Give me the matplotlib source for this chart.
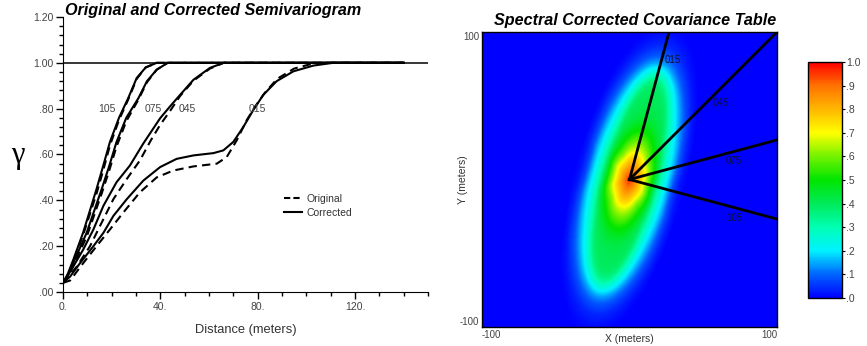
import matplotlib.pyplot as plt
import numpy as np
from matplotlib.colors import LinearSegmentedColormap
from matplotlib.lines import Line2D

plt.rcParams['font.family'] = ['Liberation Sans', 'DejaVu Sans']

# semivariogram curves: distance (m), gamma
directions = [15, 45, 75, 105]
dir_labels = ['015', '045', '075', '105']

x_105_corr = [0, 2, 4.2, 8.3, 13.8, 16.5, 19.3, 23, 26.8, 30.3, 34, 38.5, 140]
y_105_corr = [0.04, 0.08, 0.14, 0.26, 0.45, 0.55, 0.655, 0.76, 0.846, 0.934, 0.98, 1.0, 1.0]
x_105_orig = [0, 2, 4.2, 8.3, 13.8, 16.5, 19.3, 23, 26.8, 30.3, 34, 38.5, 140]
y_105_orig = [0.04, 0.07, 0.13, 0.25, 0.43, 0.53, 0.64, 0.75, 0.84, 0.93, 0.98, 1.0, 1.0]

x_075_corr = [0, 2.4, 4.8, 9.7, 15.9, 19, 22, 26, 31, 34.5, 38.5, 43, 140]
y_075_corr = [0.04, 0.08, 0.141, 0.258, 0.449, 0.55, 0.655, 0.76, 0.846, 0.92, 0.97, 1.0, 1.0]
x_075_orig = [0, 2.4, 4.8, 9.7, 15.9, 19, 22, 26, 31, 34.5, 38.5, 43, 140]
y_075_orig = [0.04, 0.07, 0.13, 0.24, 0.43, 0.53, 0.635, 0.745, 0.84, 0.915, 0.97, 1.0, 1.0]

x_045_corr = [0, 4.2, 8.3, 12.5, 16.6, 22, 27.5, 33, 39.9, 44, 48.1, 53.6, 60.4, 66, 140]
y_045_corr = [0.04, 0.111, 0.185, 0.273, 0.376, 0.479, 0.552, 0.648, 0.758, 0.81, 0.86, 0.926, 0.978, 1.0, 1.0]
x_045_orig = [0, 5.6, 11.1, 15.2, 20.7, 26.2, 31.6, 36, 39.9, 44, 48.1, 53.6, 60.4, 66, 140]
y_045_orig = [0.04, 0.11, 0.2, 0.288, 0.405, 0.493, 0.574, 0.66, 0.729, 0.79, 0.855, 0.922, 0.975, 1.0, 1.0]

x_015_corr = [0, 2.9, 7, 12.5, 16.6, 20.7, 26.2, 33, 39.9, 46.7, 53.6, 61.8, 65.9, 70, 74.1,
              78.2, 82.3, 87.8, 94.7, 102.9, 111, 140]
y_015_corr = [0.04, 0.067, 0.126, 0.2, 0.258, 0.332, 0.405, 0.486, 0.545, 0.581, 0.596, 0.606, 0.618,
              0.655, 0.72, 0.794, 0.86, 0.92, 0.963, 0.988, 1.0, 1.0]
x_015_orig = [0, 2.9, 8.3, 13.8, 19.3, 24.8, 31.6, 38.5, 45.3, 53.6, 63.2, 67.3, 71.4, 75.5, 79,
              83, 88, 95, 102, 110, 140]
y_015_orig = [0.04, 0.05, 0.126, 0.2, 0.273, 0.347, 0.435, 0.5, 0.53, 0.548, 0.56, 0.589, 0.662,
              0.75, 0.81, 0.87, 0.93, 0.975, 0.995, 1.0, 1.0]

corrected = {15: (x_015_corr, y_015_corr), 45: (x_045_corr, y_045_corr),
             75: (x_075_corr, y_075_corr), 105: (x_105_corr, y_105_corr)}
original = {15: (x_015_orig, y_015_orig), 45: (x_045_orig, y_045_orig),
            75: (x_075_orig, y_075_orig), 105: (x_105_orig, y_105_orig)}

# where the direction labels sit
curve_label_x = [80, 51, 37, 18]
curve_label_y = 0.8
map_label_r = [86, 81, 72, 76]

fig = plt.figure(figsize=(8.67, 3.46), dpi=100)
W, H = 867, 346


def box(l, t, r, b):
    return [l / W, 1 - b / H, (r - l) / W, (b - t) / H]


grey = '#444444'

# ---------- left: semivariogram ----------
ax = fig.add_axes(box(63, 17, 428, 292))
for d in directions:
    xo, yo = original[d]
    xc, yc = corrected[d]
    ax.plot(xo, yo, color='black', lw=1.5, ls=(0, (4, 2.5)))
    ax.plot(xc, yc, color='black', lw=1.5)
ax.axhline(1.0, color='black', lw=1.1)
for lab, lx in zip(dir_labels, curve_label_x):
    ax.text(lx, curve_label_y, lab, fontsize=7.5, color=grey, ha='center', va='center')

ax.set_xlim(0, 150)
ax.set_ylim(0, 1.2)
ax.spines['top'].set_visible(False)
ax.spines['right'].set_visible(False)
ax.set_xticks([0, 40, 80, 120])
ax.set_xticklabels(['0.', '40.', '80.', '120.'])
ax.set_xticks(np.arange(0, 151, 10), minor=True)
ax.set_yticks(np.arange(0, 1.21, 0.2))
ax.set_yticklabels(['.00', '.20', '.40', '.60', '.80', '1.00', '1.20'])
ax.set_yticks(np.arange(0, 1.21, 0.04), minor=True)
ax.tick_params(which='major', length=5, width=1, labelsize=7.5, labelcolor=grey, pad=2)
ax.tick_params(which='minor', length=3, width=1)
ax.set_xlabel('Distance (meters)', fontsize=9.3, color='#333333', labelpad=9)

handles = [Line2D([], [], color='black', lw=1.5, ls=(0, (3, 1.5))),
           Line2D([], [], color='black', lw=1.5)]
ax.legend(handles, ['Original', 'Corrected'], loc='upper left', bbox_to_anchor=(0.58, 0.39),
          frameon=False, fontsize=7.5, handlelength=1.7, handletextpad=0.5, labelspacing=0.35,
          labelcolor='#333333')

fig.text(65 / W, 1 - 11 / H, 'Original and Corrected Semivariogram', fontsize=11.6,
         fontweight='bold', style='italic', va='center', ha='left')
fig.text(18 / W, 1 - 155 / H, 'γ', fontsize=22, family=['Liberation Serif', 'DejaVu Serif'],
         ha='center', va='center')

# ---------- right: covariance table built from the corrected curves ----------
# for each gamma level take the lag reached in each direction, blend the four
# directions elliptically (1/r^2 against sin^2 of the angle from 015) and invert
grid = np.linspace(-100, 100, 301)
gx, gy = np.meshgrid(grid, grid)
dist = np.hypot(gx, gy).ravel()
azim = np.degrees(np.arctan2(gx, gy)).ravel()
phi = np.radians(azim - 15)
w = np.sin(phi) ** 2
w_dir = np.sin(np.radians(np.array(directions) - 15)) ** 2

levels = np.linspace(0.04, 0.999, 160)
r_lev = np.array([np.interp(levels, corrected[d][1], corrected[d][0]) for d in directions])
r_lev[:, 0] = 0.0
inv = 1.0 / np.maximum(r_lev, 1e-6) ** 2
inv_pix = np.empty((levels.size, dist.size))
for k in range(levels.size):
    inv_pix[k] = np.interp(w, w_dir, inv[:, k])
r_pix = 1.0 / np.sqrt(inv_pix)
r_pix[0] = 0.0
k = np.clip((r_pix < dist[None, :]).sum(axis=0), 1, levels.size - 1)
cols = np.arange(dist.size)
ra, rb = r_pix[k - 1, cols], r_pix[k, cols]
t = np.clip((dist - ra) / np.maximum(rb - ra, 1e-9), 0, 1)
gam = levels[k - 1] + t * (levels[k] - levels[k - 1])
gam = np.where(dist >= r_pix[-1], 1.0, gam)
cov = (1 - gam).reshape(gx.shape)

cmap = LinearSegmentedColormap.from_list('cov', [
    (0.0, (0, 0, 1)), (0.1, (0, 0.4, 1)), (0.2, (0, 0.95, 1)), (0.3, (0, 1, 0.7)),
    (0.4, (0, 0.92, 0.35)), (0.5, (0, 0.9, 0)), (0.6, (0.45, 0.95, 0)),
    (0.7, (1, 1, 0)), (0.8, (1, 0.72, 0)), (0.9, (1, 0.45, 0)), (1.0, (1, 0, 0))])

ax2 = fig.add_axes(box(482, 32, 777, 327))
im = ax2.imshow(cov, extent=(-100, 100, -100, 100), origin='lower', cmap=cmap,
                vmin=0, vmax=1, interpolation='bilinear', aspect='auto')
for d, lab, r in zip(directions, dir_labels, map_label_r):
    a = np.radians(d)
    s = min(100 / max(abs(np.sin(a)), 1e-9), 100 / max(abs(np.cos(a)), 1e-9))
    ax2.plot([0, s * np.sin(a)], [0, s * np.cos(a)], color='black', lw=2)
    la = np.radians(d + 5)
    ax2.text(r * np.sin(la), r * np.cos(la), lab, fontsize=7, color='#101030',
             ha='center', va='center')
ax2.set_xlim(-100, 100)
ax2.set_ylim(-100, 100)
ax2.set_xticks([-100, 100])
ax2.set_yticks([-100, 100])
ax2.set_xticklabels(['-100', '100'])
ax2.set_yticklabels(['-100', '100'])
ax2.tick_params(length=0, labelsize=7, labelcolor=grey, pad=2)
xl = ax2.get_xticklabels()
xl[0].set_ha('left')
xl[1].set_ha('right')
yl = ax2.get_yticklabels()
yl[0].set_va('bottom')
yl[1].set_va('top')
ax2.set_xlabel('X (meters)', fontsize=7.5, color='#333333', labelpad=-4)
ax2.set_ylabel('Y (meters)', fontsize=7.5, color='#333333', labelpad=-6)
for sp in ax2.spines.values():
    sp.set_linewidth(1)
fig.text(635 / W, 1 - 21 / H, 'Spectral Corrected Covariance Table', fontsize=11.6,
         fontweight='bold', style='italic', va='center', ha='center')

cax = fig.add_axes(box(808, 62, 842, 298))
cb = fig.colorbar(im, cax=cax)
cb.set_ticks(np.round(np.arange(0, 1.01, 0.1), 1))
cb.set_ticklabels(['.0', '.1', '.2', '.3', '.4', '.5', '.6', '.7', '.8', '.9', '1.0'])
cb.ax.tick_params(length=2, labelsize=7.5, labelcolor=grey, pad=1)
cb.outline.set_linewidth(1)

fig.savefig('out.png', dpi=100)
